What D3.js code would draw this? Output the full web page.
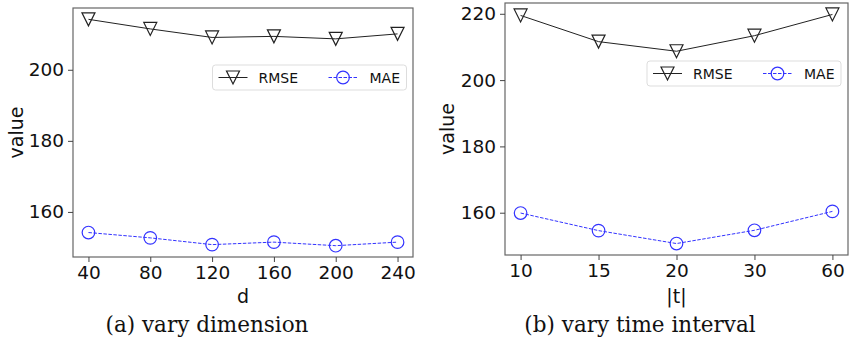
<!DOCTYPE html>
<html>
<head>
<meta charset="utf-8">
<script src="https://cdn.jsdelivr.net/npm/d3@7"></script>
<style>
  body { margin: 0; background: #fff; }
  text { font-family: "DejaVu Sans", sans-serif; }
  .caption { font-family: "DejaVu Serif", serif; }
</style>
</head>
<body>
<svg width="849" height="342"></svg>
<script>
var width = 849,
    height = 342;

// panel (a): vary dimension
var dims = [40, 80, 120, 160, 200, 240];
var rmse_d = [214.2, 211.5, 209.1, 209.4, 208.7, 210.1];
var mae_d = [154.2, 152.7, 150.8, 151.5, 150.5, 151.5];
var yticks_a = [160, 180, 200];

// panel (b): vary time interval
var intervals = ["10", "15", "20", "30", "60"];
var rmse_t = [219.5, 211.6, 208.7, 213.4, 219.8];
var mae_t = [159.9, 154.6, 150.7, 154.7, 160.4];
var yticks_b = [160, 180, 200, 220];

var svg = d3.select("svg");

// pads domain by 5% like matplotlib does
function padded(vals) {
    var lo = d3.min(vals), hi = d3.max(vals), m = (hi - lo) * 0.05;
    return [lo - m, hi + m];
}

// downward triangle, 12px wide
var triangle = "M-6.5,-6.5L6.5,-6.5L0,6.5Z";

function drawPanel(p) {
    var g = svg.append("g");

    var y = d3.scaleLinear()
        .domain(padded(p.rmse.concat(p.mae)))
        .range([p.bottom, p.top]);

    // frame
    g.append("rect")
        .attr("x", p.left).attr("y", p.top)
        .attr("width", p.right - p.left).attr("height", p.bottom - p.top)
        .attr("fill", "none").attr("stroke", "#666").attr("stroke-width", 1.2);

    var yAxis = g.append("g")
        .attr("transform", "translate(" + p.left + ",0)")
        .call(d3.axisLeft(y).tickValues(p.yticks).tickSize(5).tickPadding(4));
    var xAxis = g.append("g")
        .attr("transform", "translate(0," + p.bottom + ")")
        .call(d3.axisBottom(p.x).tickValues(p.xticks).tickSize(5).tickPadding(4));

    [xAxis, yAxis].forEach(function (a) {
        a.select(".domain").remove();
        a.selectAll("line").attr("stroke", "#444");
        a.selectAll("text")
            .attr("fill", "#111")
            .style("font-family", "DejaVu Sans")
            .style("font-size", "18.5px");
    });

    // axis titles
    g.append("text")
        .attr("transform", "translate(" + p.ylabelX + "," + ((p.top + p.bottom) / 2) + ") rotate(-90)")
        .attr("text-anchor", "middle")
        .attr("dy", "0.35em")
        .style("font-size", "19px")
        .attr("fill", "#111")
        .text("value");
    g.append("text")
        .attr("x", (p.left + p.right) / 2)
        .attr("y", p.xlabelY)
        .attr("text-anchor", "middle")
        .style("font-size", "19px")
        .attr("fill", "#111")
        .text(p.xlabel);

    var line = d3.line()
        .x(function (d, i) { return p.x(p.xticks[i]); })
        .y(function (d) { return y(d); });

    g.append("path")
        .datum(p.rmse)
        .attr("d", line)
        .attr("fill", "none").attr("stroke", "#222").attr("stroke-width", 1);
    g.append("path")
        .datum(p.mae)
        .attr("d", line)
        .attr("fill", "none").attr("stroke", "#3333ff").attr("stroke-width", 1)
        .attr("stroke-dasharray", "3.5,1.5");

    g.selectAll(".tri")
        .data(p.rmse)
        .join("path")
        .attr("d", triangle)
        .attr("transform", function (d, i) {
            return "translate(" + p.x(p.xticks[i]) + "," + y(d) + ")";
        })
        .attr("fill", "none").attr("stroke", "#222").attr("stroke-width", 1.2);
    g.selectAll(".circ")
        .data(p.mae)
        .join("circle")
        .attr("cx", function (d, i) { return p.x(p.xticks[i]); })
        .attr("cy", function (d) { return y(d); })
        .attr("r", 6.3)
        .attr("fill", "none").attr("stroke", "#3333ff").attr("stroke-width", 1.2);

    // legend
    var lg = g.append("g").attr("transform", "translate(" + p.legendX + "," + p.legendY + ")");
    lg.append("rect")
        .attr("width", 194).attr("height", 25).attr("rx", 3)
        .attr("fill", "#fff").attr("fill-opacity", 0.8)
        .attr("stroke", "#ddd").attr("stroke-width", 1);
    lg.append("line").attr("x1", 6).attr("x2", 35).attr("y1", 12.5).attr("y2", 12.5)
        .attr("stroke", "#222");
    lg.append("path").attr("d", triangle).attr("transform", "translate(20.5,12.5)")
        .attr("fill", "none").attr("stroke", "#222").attr("stroke-width", 1.2);
    lg.append("text").attr("x", 46).attr("y", 12.5).attr("dy", "0.36em")
        .style("font-size", "14px").attr("fill", "#111").text("RMSE");
    lg.append("line").attr("x1", 116).attr("x2", 145).attr("y1", 12.5).attr("y2", 12.5)
        .attr("stroke", "#3333ff").attr("stroke-dasharray", "3.5,1.5");
    lg.append("circle").attr("cx", 130.5).attr("cy", 12.5).attr("r", 6.3)
        .attr("fill", "none").attr("stroke", "#3333ff").attr("stroke-width", 1.2);
    lg.append("text").attr("x", 157).attr("y", 12.5).attr("dy", "0.36em")
        .style("font-size", "14px").attr("fill", "#111").text("MAE");

    // caption
    g.append("text")
        .attr("class", "caption")
        .attr("x", p.captionX)
        .attr("y", 332)
        .attr("text-anchor", "middle")
        .style("font-size", "21.5px")
        .attr("fill", "#111")
        .text(p.caption);
}

drawPanel({
    left: 73, right: 413, top: 8, bottom: 257,
    x: d3.scaleLinear().domain([30, 250]).range([73, 413]),
    xticks: dims,
    rmse: rmse_d, mae: mae_d, yticks: yticks_a,
    xlabel: "d", xlabelY: 303,
    ylabelX: 16,
    legendX: 212.5, legendY: 65,
    caption: "(a) vary dimension", captionX: 207
});

drawPanel({
    left: 505, right: 848, top: 3, bottom: 255,
    x: d3.scalePoint().domain(intervals).range([505, 848]).padding(0.2),
    xticks: intervals,
    rmse: rmse_t, mae: mae_t, yticks: yticks_b,
    xlabel: "|t|", xlabelY: 303,
    ylabelX: 447,
    legendX: 647, legendY: 61,
    caption: "(b) vary time interval", captionX: 640
});
</script>
</body>
</html>
